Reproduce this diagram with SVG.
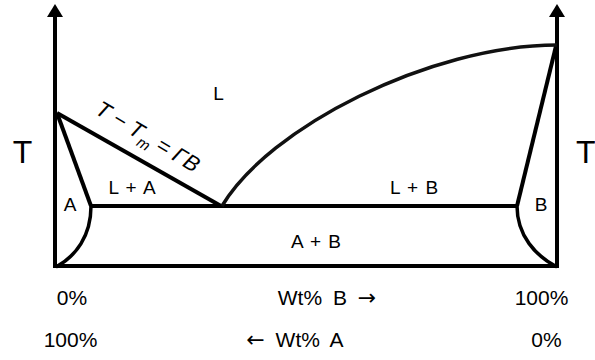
<svg xmlns="http://www.w3.org/2000/svg" width="595" height="360" viewBox="0 0 595 360">
  <defs>
    <marker id="arrow" markerUnits="userSpaceOnUse" markerWidth="13" markerHeight="16" viewBox="0 0 13 16" refX="0" refY="8" orient="auto">
      <path d="M0,0 L13,8 L0,16 z" fill="#000"/>
    </marker>
    <style>
      .ln { fill: none; stroke: #000; stroke-width: 4; stroke-linejoin: round; }
      .cv { fill: none; stroke: #000; stroke-width: 3.5; }
      .liq { fill: none; stroke: #111; stroke-width: 3.5; }
      .txt { font-family: "Liberation Sans", Arial, sans-serif; fill: #000; }
      .big { font-size: 32px; }
      .reg { font-size: 19px; word-spacing: 2px; }
      .ax { font-size: 21px; }
      .arr { font-family: "DejaVu Sans", sans-serif; font-size: 22px; }
    </style>
  </defs>
  <rect width="595" height="360" fill="#fff"/>

  <g id="connectors">
    <line id="axis-left" class="ln" x1="55" y1="268" x2="55" y2="17" marker-end="url(#arrow)"/>
    <line id="axis-right" class="ln" x1="557" y1="268" x2="557" y2="17" marker-end="url(#arrow)"/>
    <line id="bottom" class="ln" x1="53" y1="266" x2="559" y2="266"/>
    <line id="eutectic" class="ln" x1="91" y1="206" x2="518" y2="206"/>
    <line id="liquidus-A" class="ln" x1="57" y1="113" x2="221" y2="206"/>
    <line id="solidus-A" class="ln" x1="57" y1="113" x2="91" y2="206"/>
    <path id="solvus-A" class="cv" d="M91,206 C91,236 76,256 56,267"/>
    <line id="solidus-B" class="ln" x1="556" y1="46" x2="517" y2="206"/>
    <path id="solvus-B" class="cv" d="M517,206 C517,236 536,256 557,267"/>
    <path id="liquidus-B" class="liq" d="M222,206 C268,128 430,45 557,45"/>
  </g>

  <g id="label-T-left"><text class="txt big" x="22.5" y="163" text-anchor="middle">T</text></g>
  <g id="label-T-right"><text class="txt big" x="576" y="163">T</text></g>
  <g id="region-L"><text class="txt reg" x="218.5" y="100" text-anchor="middle">L</text></g>
  <g id="region-LA"><text class="txt reg" x="132" y="194" text-anchor="middle">L + A</text></g>
  <g id="region-LB"><text class="txt reg" x="414" y="194" text-anchor="middle">L + B</text></g>
  <g id="region-A"><text class="txt reg" x="70" y="211" text-anchor="middle">A</text></g>
  <g id="region-B"><text class="txt reg" x="541" y="211" text-anchor="middle">B</text></g>
  <g id="region-AB"><text class="txt reg" x="316" y="248" text-anchor="middle">A + B</text></g>

  <g id="eq-label">
    <text class="txt" font-size="22" font-style="italic" transform="translate(94,113) rotate(31)">T − T<tspan font-size="15" dy="6">m</tspan><tspan dy="-6"> = ΓB</tspan></text>
  </g>

  <g id="axis-labels">
    <text class="txt ax" x="72" y="305" text-anchor="middle">0%</text>
    <text class="txt ax" x="70.5" y="347" text-anchor="middle">100%</text>
    <text class="txt ax" x="327" y="305" text-anchor="middle" word-spacing="5">Wt% B <tspan class="arr">→</tspan></text>
    <text class="txt ax" x="295" y="347" text-anchor="middle" word-spacing="5"><tspan class="arr">←</tspan> Wt% A</text>
    <text class="txt ax" x="541.5" y="305" text-anchor="middle">100%</text>
    <text class="txt ax" x="546.5" y="347" text-anchor="middle">0%</text>
  </g>
</svg>
